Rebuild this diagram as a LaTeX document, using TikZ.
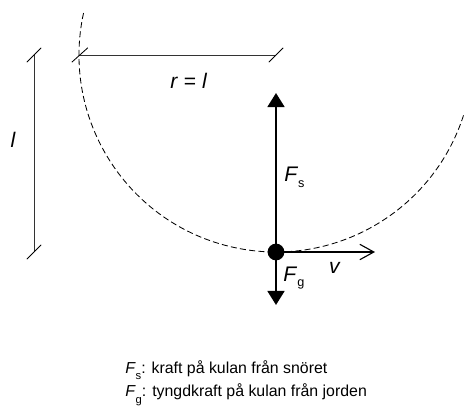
\documentclass[tikz,border=0pt]{standalone}
\usepackage{fontspec}
\setmainfont{Liberation Sans}
\usetikzlibrary{arrows.meta}
\newcommand{\Fsub}[1]{\textit{F}\raisebox{-0.5ex}{\small #1}}
\newcommand{\Fcap}[1]{\textit{F}\raisebox{-0.75ex}{\footnotesize #1}}
\tikzset{
  tick/.style={line width=0.6pt},
  dimline/.style={line width=0.6pt, black!80},
  force/.style={line width=1.6pt, -{Triangle[length=10pt,width=12pt]}},
  label/.style={font=\fontsize{15}{17}\selectfont, inner sep=0pt},
  caption/.style={anchor=west, inner sep=0pt, font=\fontsize{11.3}{13}\selectfont}
}
\begin{document}
\begin{tikzpicture}
        \useasboundingbox (0,0) rectangle (11.6,10.15);
        % Mittpunkt och kulan
        \coordinate (C) at (6.9,8.775);
        \coordinate (B) at (6.9,3.85);
        \coordinate (L) at (1.975,8.775);

        % Cirkelbanan (streckad)
        \draw[line width=0.6pt, dash pattern=on 4.3pt off 2.3pt]
            (C) ++(167.7:4.925) arc[start angle=167.7, end angle=342.6, radius=4.925];

        % Radien r = l
        \draw[dimline] (L) -- (C);
        \draw[tick] (L) ++(-0.18,-0.18) -- ++(0.4,0.36);
        \draw[tick] (C) ++(-0.18,-0.18) -- ++(0.36,0.36);
        \node[label] (rl) at (4.72,8.12) {\textit{r} = \textit{l}};

        % Längden l
        \coordinate (Ltop) at (0.85,8.775);
        \coordinate (Lbot) at (0.85,3.85);
        \draw[dimline] (Ltop) -- (Lbot);
        \draw[tick] (Ltop) ++(-0.18,-0.18) -- ++(0.36,0.36);
        \draw[tick] (Lbot) ++(-0.18,-0.18) -- ++(0.36,0.36);
        \node[label] (ll) at (0.33,6.65) {\textit{l}};

        % Krafterna
        \coordinate (Fs) at (6.9,7.825);
        \coordinate (Fg) at (6.9,2.525);
        \draw[force] (B) -- (Fs);
        \draw[force] (B) -- (Fg);
        \node[label, anchor=west] (fs) at (7.1,5.72) {\Fsub{s}};
        \node[label, anchor=west] (fg) at (7.08,3.2) {\Fsub{g}};

        % Hastigheten v
        \coordinate (V) at (9.375,3.85);
        \draw[line width=0.8pt, -{Straight Barb[length=10pt,width=11pt]}] (B) -- (V);
        \node[label] (vl) at (8.375,3.45) {\textit{v}};

        % Kulan
        \fill (B) circle (0.21);

        % Förklaringar
        \node[caption] (t1) at (3.125,0.9) {\Fcap{s}: kraft på kulan från snöret};
        \node[caption] (t2) at (3.125,0.28) {\Fcap{g}: tyngdkraft på kulan från jorden};
    \end{tikzpicture}
\end{document}
